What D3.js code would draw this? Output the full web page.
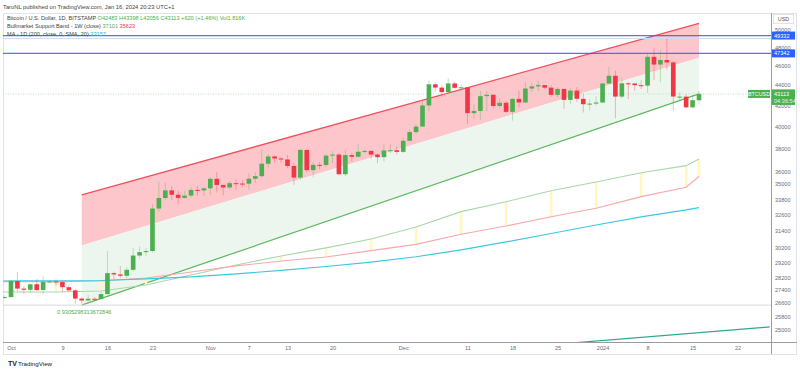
<!DOCTYPE html>
<html><head><meta charset="utf-8">
<script src="https://cdn.jsdelivr.net/npm/d3@7"></script>
<style>
body{margin:0;background:#fff;}
svg{display:block;font-family:"Liberation Sans",Arial,sans-serif;}
</style>
</head><body>
<svg id="c" width="800" height="370"></svg>
<script>
// ---------- DATA ----------
const firstDay = "2023-09-30";
const lastDay = "2024-01-16";
const opens = [26910,
26967,27983,27500,27426,27778,27410,27931,27956,27917,27590,27390,26873,26756,26862,26852,27154,28500,28415,28328,28719,29682,29918,29993,33086,33901,34502,34156,33909,34090,34538,34502,
34667,35437,34938,34732,35082,35049,35037,35443,35655,36693,37313,37138,37054,36502,35537,37880,36154,36596,36585,37386,37476,35813,37432,37289,37720,37796,37479,37254,37831,37858,
37712,38688,39476,39978,41980,44080,43746,43292,44166,43725,43779,41243,41450,42890,43023,41929,42240,41364,42623,42270,43652,43869,43997,43739,43016,43613,42520,43442,42627,42099,42156,
42265,44167,44957,42848,44179,44162,43989,43943,46970,46139,46627,46368,42780,42842,41796,42483];
const highs = [27090,
28065,28580,27670,27825,28125,28290,28030,28100,27990,27740,27480,26940,27100,26975,27290,30000,28600,28970,28890,30200,30300,30200,33400,35200,35120,34830,34480,34460,34750,34850,34720,
35580,35990,34950,35260,35400,35300,35900,35990,37950,37520,37400,37230,37420,36780,37970,37920,36850,36850,37510,37760,37640,37880,37640,38430,37900,37830,37590,38380,38420,38150,
38980,39700,40200,42400,44480,44300,44000,44700,44360,44040,43780,42090,43400,43420,43090,42700,42430,42730,43450,44300,44250,44400,43990,43950,43800,43620,43680,43800,43130,42600,42900,
44200,45900,45500,44750,44300,44250,44500,47250,47900,47700,49000,46500,43260,43080,43000,43398];
const lows = [26890,
26955,27330,27160,27215,27350,27185,27865,27700,27280,27300,26550,26560,26700,26810,26820,27120,28100,28170,28180,28600,29480,29680,29880,32880,33700,33760,33400,33850,33920,34080,34040,
34120,34340,34110,34600,34550,34750,34540,35100,35550,36350,36770,36770,36340,34950,35370,35980,35560,36230,36400,36750,35750,35640,36880,37260,37600,37150,36730,36880,37600,37500,
37620,38650,39300,39980,41420,43350,42800,43080,43600,43590,40200,40680,40600,41430,41700,41700,41250,40530,41800,42200,43300,43400,43620,42800,42760,41650,42100,42320,41300,41520,41970,
42200,44150,40750,42650,42600,43400,43600,43200,44500,44300,45600,41500,42450,41720,41700,42056];
const closes = [26967,
27983,27500,27426,27778,27410,27931,27956,27917,27590,27390,26873,26756,26862,26852,27154,28500,28415,28328,28719,29682,29918,29993,33086,33901,34502,34156,33909,34090,34538,34502,34667,
35437,34938,34732,35082,35049,35037,35443,35655,36693,37313,37138,37054,36502,35537,37880,36154,36596,36585,37386,37476,35813,37432,37289,37720,37796,37479,37254,37831,37858,37712,
38688,39476,39978,41980,44080,43746,43292,44166,43725,43779,41243,41450,42890,43023,41929,42240,41364,42623,42270,43652,43869,43997,43739,43016,43613,42520,43442,42627,42099,42156,42265,
44167,44957,42848,44179,44162,43989,43943,46970,46139,46627,46368,42853,42842,41796,42493,43113];

// weekly Bull Market Support Band (1W) and daily MA200 sampled weekly
const bandDates = ["2023-09-24","2023-10-01","2023-10-08","2023-10-15","2023-10-22","2023-10-29","2023-11-05","2023-11-12","2023-11-19","2023-11-26","2023-12-03","2023-12-10","2023-12-17","2023-12-24","2023-12-31","2024-01-07","2024-01-14","2024-01-16"];
const bandSma = [27290,27290,27290,27350,27730,28380,29040,29650,30210,30840,31710,32850,33610,34480,35180,35940,36530,37101];
const bandEma = [27940,27940,27940,27990,28180,28580,28980,29310,29580,30020,30460,31180,31780,32470,33110,34010,34750,35623];
const ma200 = [27970,27990,27990,28020,28120,28250,28450,28680,28940,29240,29600,30070,30630,31230,31850,32450,32980,33157];

// channel drawing
const channelDates = ["2023-10-12","2024-01-16"];
const channelTop = [34140,50750];
const channelMid = [30370,46870];
const channelBottom = [26470,43110];
const channelRatio = "0.9305298313672846";

// horizontal levels
const blueLevels = [49332,47342];
const lastPrice = 43113;
const baseLevel = 26470;

// teal trend line
const tealDates = ["2023-12-28","2024-01-27"];
const tealValues = [24280,25170];

// axes
const yTicks = [50000,48000,46000,44000,42000,40000,38000,36000,35000,33800,32600,31400,30200,29200,28200,27400,26600,25800,25000];
const xTickDates = ["2023-10-01","2023-10-09","2023-10-16","2023-10-23","2023-11-01","2023-11-07","2023-11-13","2023-11-20","2023-12-01","2023-12-11","2023-12-18","2023-12-25","2024-01-01","2024-01-08","2024-01-15","2024-01-22"];
const xTickLabels = ["Oct","9","16","23","Nov","7","13","20","Dec","11","18","25","2024","8","15","22"];

// ---------- LAYOUT ----------
const L = 3, R = 771, T = 13, B = 342;
const pd = s => new Date(s + "T00:00:00Z");
const x = d3.scaleUtc().domain([pd("2023-10-01"), pd("2024-01-16")]).range([11, 699]);
const y = d3.scaleLog().domain([24310, 51970]).range([B, T]);

const GREEN = "#4caf50", RED = "#f23645";
const svg = d3.select("#c");

svg.append("defs").append("clipPath").attr("id","plot")
  .append("rect").attr("x",L).attr("y",T).attr("width",R-L).attr("height",B-T);

// header
svg.append("text").attr("x",3).attr("y",8.5).attr("font-size",5.8).attr("fill","#444")
  .text("TaroNL published on TradingView.com, Jan 16, 2024 20:23 UTC+1");

// frame
svg.append("rect").attr("x",3.5).attr("y",13.5).attr("width",793).attr("height",341)
  .attr("fill","none").attr("stroke","#e0e3eb");

const g = svg.append("g").attr("clip-path","url(#plot)");

// channel fills
const cd = channelDates.map(pd);
const poly = (top, bot) => {
  const pts = cd.map((d,i)=>[x(d), y(top[i])]).concat(cd.slice().reverse().map((d,i)=>[x(d), y(bot[cd.length-1-i])]));
  return "M" + pts.map(p=>p.join(",")).join("L") + "Z";
};
g.append("path").attr("d", poly(channelTop, channelMid)).attr("fill","#fdc6cb");
g.append("path").attr("d", poly(channelMid, channelBottom)).attr("fill","#edf6ee");
const line2 = vals => d3.line().x((d,i)=>x(cd[i])).y((d,i)=>y(vals[i]))(vals);
g.append("path").attr("d", line2(channelTop)).attr("stroke","#f0505e").attr("stroke-width",1.3).attr("fill","none");
g.append("path").attr("d", line2(channelBottom)).attr("stroke","#5cb85f").attr("stroke-width",1.2).attr("fill","none");

// base horizontal level + ratio text
g.append("line").attr("x1",L).attr("x2",R).attr("y1",y(baseLevel)).attr("y2",y(baseLevel))
  .attr("stroke","#d6d8de").attr("stroke-width",1);
g.append("text").attr("x",x(pd("2023-10-08"))+1).attr("y",y(baseLevel)+8.5)
  .attr("font-size",5.6).attr("fill",GREEN).text(channelRatio);

// blue levels
blueLevels.forEach((v,i)=>{
  g.append("line").attr("x1",L).attr("x2",R).attr("y1",y(v)).attr("y2",y(v))
    .attr("stroke","#2962ff").attr("stroke-width",1.2).attr("opacity",0.85);
  if(i===0) g.append("line").attr("x1",L).attr("x2",R).attr("y1",y(v)+3).attr("y2",y(v)+3)
    .attr("stroke","#d7dbe8").attr("stroke-width",1);
});

// last price line
g.append("line").attr("x1",L).attr("x2",R).attr("y1",y(lastPrice)).attr("y2",y(lastPrice))
  .attr("stroke","#b9dfbb").attr("stroke-width",1).attr("stroke-dasharray","1,1.5");

// bull market support band
const bd = bandDates.map(pd);
g.selectAll("rect.band").data(bd).join("rect").attr("class","band")
  .attr("x",(d)=>x(d)-1.3).attr("width",2.6)
  .attr("y",(d,i)=>Math.min(y(bandSma[i]),y(bandEma[i])))
  .attr("height",(d,i)=>Math.abs(y(bandSma[i])-y(bandEma[i])))
  .attr("fill","#fff6c2");
const wline = vals => d3.line().x((d,i)=>x(bd[i])).y((d,i)=>y(vals[i]))(vals);
g.append("path").attr("d", wline(bandSma)).attr("stroke","#a8d8a9").attr("stroke-width",1.1).attr("fill","none");
g.append("path").attr("d", wline(bandEma)).attr("stroke","#f8a8aa").attr("stroke-width",1.1).attr("fill","none");
g.append("path").attr("d", wline(ma200)).attr("stroke","#3cc8df").attr("stroke-width",1.2).attr("fill","none");

// teal line
const td = tealDates.map(pd);
g.append("path").attr("d", d3.line().x((d,i)=>x(td[i])).y((d,i)=>y(tealValues[i]))(tealValues))
  .attr("stroke","#2aa88f").attr("stroke-width",1.3).attr("fill","none");

// candles
const days = d3.utcDay.range(pd(firstDay), d3.utcDay.offset(pd(lastDay),1));
const step = x(pd("2023-10-02")) - x(pd("2023-10-01"));
const bw = step*0.72;
const cg = g.append("g");
days.forEach((d,i)=>{
  const up = closes[i] >= opens[i];
  const col = up ? GREEN : RED;
  const cx = x(d);
  cg.append("line").attr("x1",cx).attr("x2",cx).attr("y1",y(highs[i])).attr("y2",y(lows[i]))
    .attr("stroke",col).attr("stroke-opacity",0.35).attr("stroke-width",1);
  const y0 = y(Math.max(opens[i],closes[i])), y1 = y(Math.min(opens[i],closes[i]));
  cg.append("rect").attr("x",cx-bw/2).attr("width",bw).attr("y",y0).attr("height",Math.max(1,y1-y0)).attr("fill",col);
});

// axes lines
svg.append("line").attr("x1",R+0.5).attr("x2",R+0.5).attr("y1",13).attr("y2",354).attr("stroke","#9a9ca3");
svg.append("line").attr("x1",3).attr("x2",797).attr("y1",B+0.5).attr("y2",B+0.5).attr("stroke","#9a9ca3");

// right axis
const ya = svg.append("g").attr("transform",`translate(${R+3},0)`)
  .call(d3.axisRight(y).tickValues(yTicks).tickFormat(d=>String(d)).tickSize(0).tickPadding(1));
ya.select(".domain").remove();
ya.selectAll("text").attr("font-size",5.6).attr("fill","#6a6d78").attr("font-family","Liberation Sans, Arial, sans-serif");

// bottom axis
const xa = svg.append("g").attr("transform",`translate(0,${B+3})`)
  .call(d3.axisBottom(x).tickValues(xTickDates.map(pd)).tickFormat((d,i)=>xTickLabels[i]).tickSize(0).tickPadding(1));
xa.select(".domain").remove();
xa.selectAll("text").attr("font-size",5.6).attr("fill","#6a6d78").attr("font-family","Liberation Sans, Arial, sans-serif");

// USD box
svg.append("rect").attr("x",773.5).attr("y",14.5).attr("width",20).attr("height",9).attr("fill","#fff").attr("stroke","#e0e3eb");
svg.append("text").attr("x",783.5).attr("y",21).attr("text-anchor","middle").attr("font-size",5.4).attr("fill","#555").text("USD");

// price labels
blueLevels.forEach(v=>{
  svg.append("rect").attr("x",R+1).attr("y",y(v)-4).attr("width",23).attr("height",8).attr("fill","#2962ff");
  svg.append("text").attr("x",R+3).attr("y",y(v)+2).attr("font-size",5.6).attr("fill","#fff").text(String(v));
});
svg.append("rect").attr("x",R+1).attr("y",y(lastPrice)-4.5).attr("width",23).attr("height",15.5).attr("fill",GREEN);
svg.append("text").attr("x",R+3).attr("y",y(lastPrice)+2).attr("font-size",5.6).attr("fill","#fff").text(String(lastPrice));
svg.append("text").attr("x",R+3).attr("y",y(lastPrice)+9).attr("font-size",5.6).attr("fill","#e6f4e7").text("04:36:54");
svg.append("rect").attr("x",748).attr("y",y(lastPrice)-4).attr("width",22).attr("height",8).attr("fill",GREEN);
svg.append("text").attr("x",759).attr("y",y(lastPrice)+2).attr("text-anchor","middle").attr("font-size",5.4).attr("fill","#fff").text("BTCUSD");

// legend
const leg = svg.append("g").attr("font-size",5.6);
const l1 = leg.append("text").attr("x",7).attr("y",20);
l1.append("tspan").attr("fill","#444").text("Bitcoin / U.S. Dollar, 1D, BITSTAMP  ");
l1.append("tspan").attr("fill",GREEN).text("O42483  H43398  L42056  C43113  +620 (+1.46%)  Vol1.816K");
const l2 = leg.append("text").attr("x",7).attr("y",28);
l2.append("tspan").attr("fill","#444").text("Bullmarket Support Band - 1W (close)  ");
l2.append("tspan").attr("fill",GREEN).text(String(bandSma[bandSma.length-1]) + "  ");
l2.append("tspan").attr("fill","#f23645").text(String(bandEma[bandEma.length-1]));
const l3 = leg.append("text").attr("x",7).attr("y",36);
l3.append("tspan").attr("fill","#444").text("MA - 1D (200, close, 0, SMA, 20)  ");
l3.append("tspan").attr("fill","#22b8d6").text(String(ma200[ma200.length-1]));

// footer logo
svg.append("text").attr("x",8).attr("y",366).attr("font-size",7).attr("font-weight","bold").attr("fill","#131722").text("TV");
svg.append("text").attr("x",18).attr("y",366).attr("font-size",6.2).attr("fill","#131722").text("TradingView");
</script>
</body></html>
